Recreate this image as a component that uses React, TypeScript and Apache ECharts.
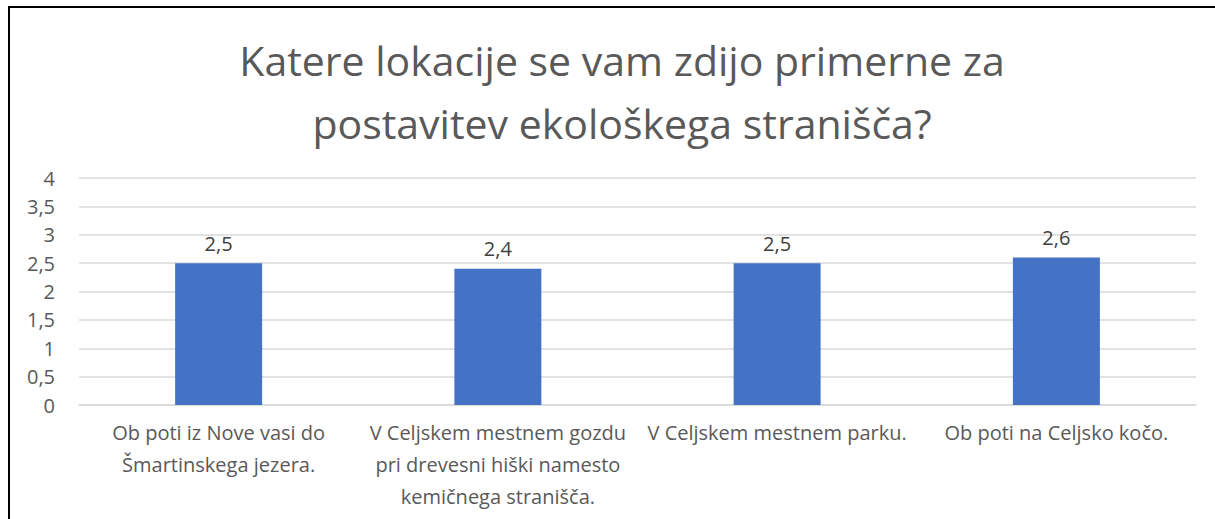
import React, { useEffect, useRef } from "react";
import * as echarts from "echarts";

const titleText = "Katere lokacije se vam zdijo primerne za\npostavitev ekološkega stranišča?";
const categories = [
  "Ob poti iz Nove vasi do\nŠmartinskega jezera.",
  "V Celjskem mestnem gozdu\npri drevesni hiški namesto\nkemičnega stranišča.",
  "V Celjskem mestnem parku.",
  "Ob poti na Celjsko kočo.",
];
const values = [2.5, 2.4, 2.5, 2.6];

const FONT = "'Open Sans', sans-serif";

export default function App() {
  const ref = useRef<HTMLDivElement>(null);
  useEffect(() => {
    if (!ref.current) return;
    const chart = echarts.init(ref.current, null, { renderer: "svg" });
    chart.setOption({
      animation: false,
      backgroundColor: "#ffffff",
      title: {
        text: titleText,
        left: 617,
        textAlign: "center",
        top: 23,
        textStyle: {
          fontFamily: FONT,
          fontSize: 41,
          fontWeight: "normal",
          color: "#595959",
          lineHeight: 63,
        },
      },
      grid: { left: 79, right: 19, top: 178, bottom: 114, containLabel: false },
      xAxis: {
        type: "category",
        data: categories,
        axisLine: { show: true, lineStyle: { color: "#d9d9d9", width: 1.5 } },
        axisTick: { show: false },
        axisLabel: {
          interval: 0,
          margin: 11,
          fontFamily: FONT,
          fontSize: 20,
          lineHeight: 32,
          color: "#595959",
          align: "center",
        },
      },
      yAxis: {
        type: "value",
        min: 0,
        max: 4,
        interval: 0.5,
        axisLine: { show: false },
        axisTick: { show: false },
        splitLine: { lineStyle: { color: "#d9d9d9", width: 1.5 } },
        axisLabel: {
          margin: 24,
          fontFamily: FONT,
          fontSize: 20,
          color: "#595959",
          formatter: (v: number) => String(v).replace(".", ","),
        },
      },
      series: [
        {
          type: "bar",
          data: values,
          barWidth: 87,
          itemStyle: { color: "#4472c4" },
          label: {
            show: true,
            position: "top",
            distance: 10,
            fontFamily: FONT,
            fontSize: 20,
            color: "#404040",
            formatter: (p: any) => String(p.value).replace(".", ","),
          },
        },
      ],
      graphic: [
        { type: "line", shape: { x1: 9, y1: 7, x2: 9, y2: 519 }, style: { stroke: "#000", lineWidth: 2 } },
        { type: "line", shape: { x1: 8, y1: 7, x2: 1215, y2: 7 }, style: { stroke: "#000", lineWidth: 2 } },
      ],
    });
    return () => chart.dispose();
  }, []);
  return (
    <div
      ref={ref}
      style={{ position: "fixed", left: 0, top: 0, width: 1215, height: 519 }}
    />
  );
}
